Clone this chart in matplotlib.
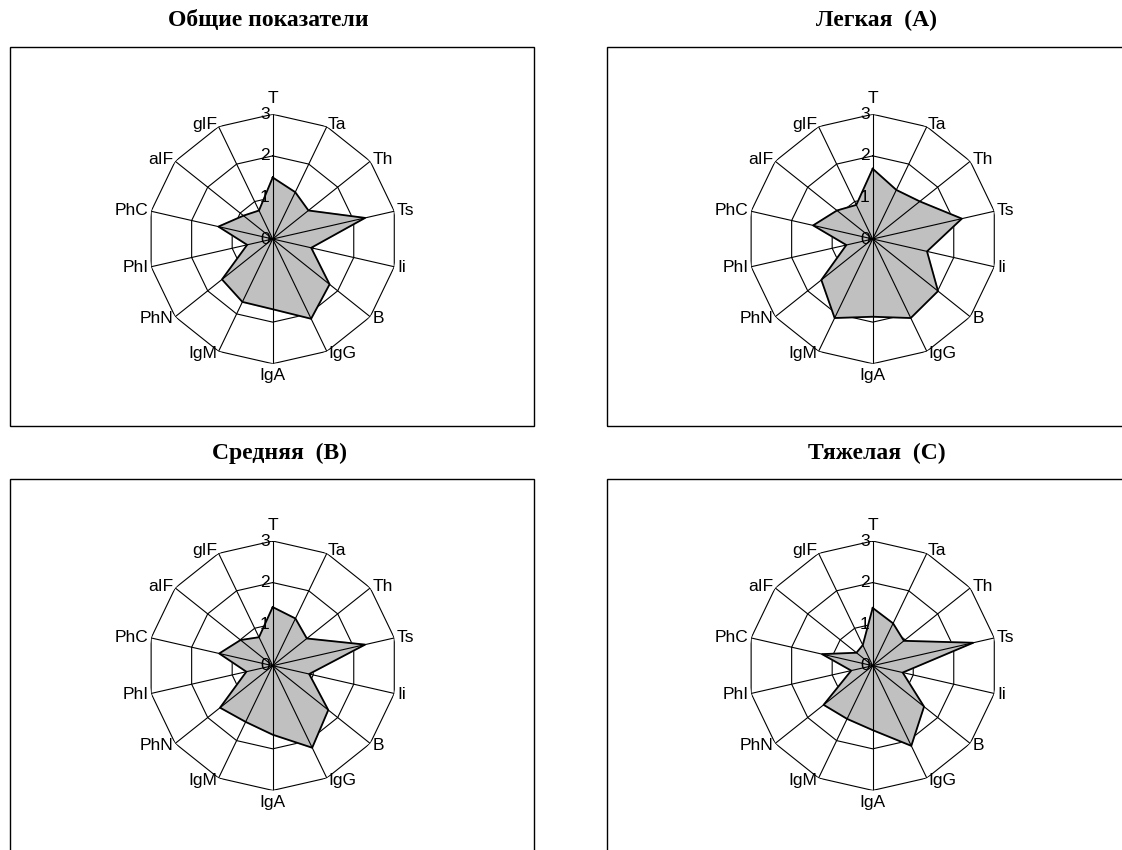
import numpy as np
import matplotlib
matplotlib.use("Agg")
import matplotlib.pyplot as plt
import matplotlib.transforms as mtransforms
from matplotlib.patches import Rectangle

# categories (clockwise from top)
categories = ["T", "Ta", "Th", "Ts", "Ii", "B", "IgG", "IgA", "IgM",
              "PhN", "PhI", "PhC", "aIF", "gIF"]

# values
vals_total = [1.48, 1.25, 1.10, 2.28, 0.95, 1.75, 2.13, 1.69, 1.68, 1.56, 0.63, 1.34, 0.90, 0.76]
vals_a = [1.69, 1.31, 1.45, 2.20, 1.34, 2.01, 2.11, 1.87, 2.11, 1.58, 0.65, 1.47, 1.10, 0.91]
vals_b = [1.41, 1.26, 1.05, 2.28, 0.90, 1.71, 2.19, 1.66, 1.50, 1.62, 0.65, 1.32, 0.99, 0.76]
vals_c = [1.39, 1.13, 0.96, 2.48, 0.74, 1.58, 2.14, 1.55, 1.42, 1.51, 0.53, 1.25, 0.50, 0.55]

titles = ["Общие показатели", "Легкая  (A)", "Средняя  (B)", "Тяжелая  (C)"]
series = [vals_total, vals_a, vals_b, vals_c]
rings = [1, 2, 3]
rmax = 3

W, H = 1122, 850
fig = plt.figure(figsize=(W / 100, H / 100), dpi=100)

# chart centres in pixels (from top-left), radius of ring 3 in pixels
centers = [(272.7, 239), (872.7, 239), (272.7, 665.7), (872.7, 665.7)]
R = 124.7
boxes = [(10, 47, 524, 379), (607, 47, 540, 379), (10, 479, 524, 400), (607, 479, 540, 400)]
title_pos = [(268, 20), (877, 20), (280, 453), (877, 453)]

n = len(categories)
theta = np.arange(n) * 2 * np.pi / n
theta_c = np.append(theta, theta[0])

for i in range(4):
    cx, cy = centers[i]
    bx, by, bw, bh = boxes[i]
    fig.patches.append(Rectangle((bx / W, 1 - (by + bh) / H), bw / W, bh / H,
                                 transform=fig.transFigure, fill=False,
                                 edgecolor="black", linewidth=1.0, zorder=0))
    tx, ty = title_pos[i]
    fig.text(tx / W, 1 - ty / H, titles[i], ha="center", va="center",
             fontsize=17, fontweight="bold", family="Liberation Serif")

    ax = fig.add_axes([(cx - R) / W, 1 - (cy + R) / H, 2 * R / W, 2 * R / H],
                      projection="polar")
    ax.set_theta_zero_location("N")
    ax.set_theta_direction(-1)
    ax.set_ylim(0, rmax)
    ax.grid(False)
    ax.set_xticks([])
    ax.set_yticks([])
    ax.spines["polar"].set_visible(False)
    ax.patch.set_visible(False)

    # polygon rings
    for r in rings:
        ax.plot(theta_c, [r] * (n + 1), color="black", lw=0.8, zorder=1)

    v = np.append(series[i], series[i][0])
    ax.fill(theta_c, v, color="#c0c0c0", zorder=2)
    ax.plot(theta_c, v, color="black", lw=1.3, zorder=4)

    # spokes
    for t in theta:
        ax.plot([t, t], [0, rmax], color="black", lw=0.8, zorder=3)

    # category labels
    for t, lab in zip(theta, categories):
        s, c = np.sin(t), np.cos(t)
        if abs(s) < 0.1:
            ha = "center"
            va = "bottom" if c > 0 else "top"
            rr = 3.2 if c > 0 else 3.1
        else:
            ha = "left" if s > 0 else "right"
            va = "center"
            rr = 3.07
        ax.text(t, rr, lab, ha=ha, va=va, fontsize=12.5, family="Liberation Sans")

    # radial value labels
    off = mtransforms.offset_copy(ax.transData, fig=fig, x=-3, y=0, units="dots")
    for r in [0] + rings:
        ax.text(0, r, str(r), transform=off, ha="right", va="center",
                fontsize=12.5, family="Liberation Sans", zorder=5)

fig.savefig("out.png", dpi=100)
